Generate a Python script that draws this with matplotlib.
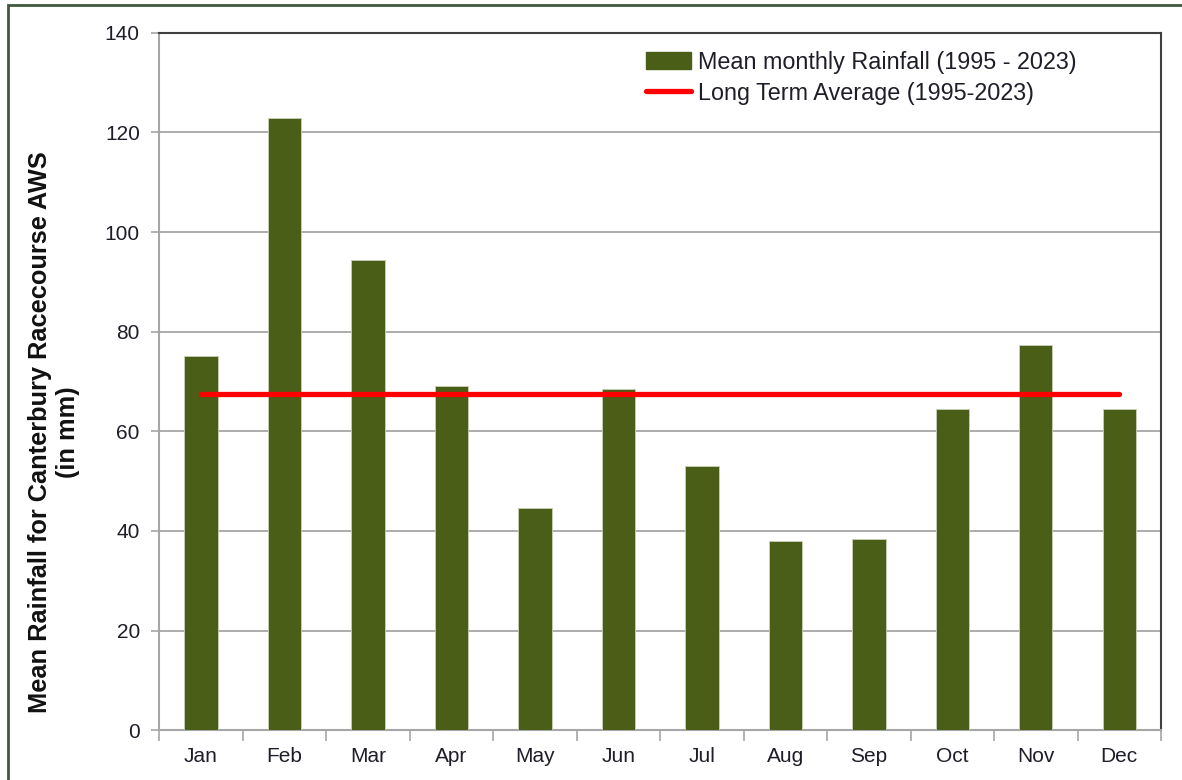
import matplotlib
matplotlib.use("Agg")
import matplotlib.pyplot as plt
from matplotlib.patches import Rectangle
from matplotlib.lines import Line2D
import numpy as np

months = ["Jan", "Feb", "Mar", "Apr", "May", "Jun",
          "Jul", "Aug", "Sep", "Oct", "Nov", "Dec"]
rainfall_mm = [75.1, 122.9, 94.4, 69.0, 44.7, 68.5,
               53.0, 38.0, 38.4, 64.4, 77.3, 64.4]
long_term_avg = 67.5
y_ticks = [0, 20, 40, 60, 80, 100, 120, 140]

bar_label = "Mean monthly Rainfall (1995 - 2023)"
avg_label = "Long Term Average (1995-2023)"
y_title = "Mean Rainfall for Canterbury Racecourse AWS\n(in mm)"

plt.rcParams["font.family"] = ["Liberation Sans", "DejaVu Sans"]

BAR = "#4a5e17"
GRID = "#a6a6a6"
TEXT = "#1e1e28"

fig = plt.figure(figsize=(11.82, 7.80), dpi=100)
fig.patch.set_facecolor("white")

W, H = 1182, 780
left, right, top, bottom = 159.3, 1161, 32.7, 730.3
ax = fig.add_axes([left / W, 1 - bottom / H, (right - left) / W, (bottom - top) / H])

x = np.arange(len(months))
ax.bar(x, rainfall_mm, width=0.4, color=BAR, edgecolor="#c8d0b8",
       linewidth=0.6, zorder=3)
ax.plot([x[0], x[-1]], [long_term_avg, long_term_avg], color="#ff0000",
        linewidth=3.8, solid_capstyle="round", zorder=4)

ax.set_xlim(-0.5, len(months) - 0.5)
ax.set_ylim(0, 140)

# Category boundaries carry the tick marks, centres carry the labels
ax.set_xticks(np.arange(-0.5, len(months), 1.0))
ax.set_xticklabels([])
ax.set_xticks(x, minor=True)
ax.set_xticklabels(months, minor=True, fontsize=15, color=TEXT)
ax.tick_params(axis="x", which="major", length=8, width=1.2, color=GRID, direction="out")
ax.tick_params(axis="x", which="minor", length=0, pad=12)

ax.set_yticks(y_ticks)
ax.set_yticklabels([str(v) for v in y_ticks], fontsize=15, color=TEXT)
ax.tick_params(axis="y", length=6, width=1.2, color=GRID, direction="out", pad=8)

ax.grid(axis="y", color=GRID, linewidth=1.3, zorder=0)
ax.set_axisbelow(True)

for side in ("left", "bottom"):
    ax.spines[side].set_color(GRID)
    ax.spines[side].set_linewidth(1.5)
for side in ("top", "right"):
    ax.spines[side].set_color("#404040")
    ax.spines[side].set_linewidth(1.5)

fig.text(54 / W, 1 - 432 / H, y_title, rotation=90, ha="center", va="center",
         fontsize=18.3, fontweight="bold", color="#111111", linespacing=1.2,
         multialignment="center")

handles = [
    Rectangle((0, 0), 1, 1, facecolor=BAR, edgecolor=BAR),
    Line2D([], [], color="#ff0000", linewidth=3.8, solid_capstyle="round"),
]
leg = ax.legend(handles, [bar_label, avg_label], loc="upper right",
                bbox_to_anchor=(1 - 75 / (right - left), 1 - 9 / (bottom - top)),
                frameon=False, fontsize=16.8, handlelength=1.95, handleheight=0.75,
                handletextpad=0.3, labelspacing=0.33, borderaxespad=0)
for t in leg.get_texts():
    t.set_color(TEXT)

# Outer frame of the chart area
fig.add_artist(Rectangle((8 / W, -0.1), 1.2, 1 - 5 / H + 0.1, transform=fig.transFigure,
                         fill=False, edgecolor="#3f5a3f", linewidth=2.0))

fig.savefig("out.png", dpi=100, facecolor="white")
